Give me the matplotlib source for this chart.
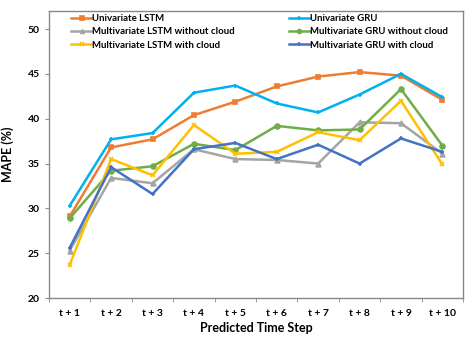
import numpy as np
import matplotlib.pyplot as plt

plt.rcParams['font.family'] = ['Lato', 'DejaVu Sans']

steps = ['t + 1', 't + 2', 't + 3', 't + 4', 't + 5',
         't + 6', 't + 7', 't + 8', 't + 9', 't + 10']

uni_lstm = [29.1, 36.8, 37.7, 40.4, 41.9, 43.6, 44.7, 45.2, 44.8, 42.1]
uni_gru = [30.3, 37.7, 38.4, 42.9, 43.7, 41.7, 40.7, 42.7, 45.0, 42.4]
multi_lstm_nc = [25.3, 33.4, 32.8, 36.6, 35.5, 35.4, 35.0, 39.6, 39.5, 36.1]
multi_gru_nc = [28.9, 34.2, 34.7, 37.2, 36.5, 39.2, 38.7, 38.8, 43.3, 37.0]
multi_lstm_c = [23.7, 35.5, 33.7, 39.3, 36.1, 36.3, 38.5, 37.6, 42.0, 34.9]
multi_gru_c = [25.6, 34.6, 31.6, 36.6, 37.3, 35.5, 37.1, 35.0, 37.8, 36.3]

series = [
    ('Univariate LSTM', uni_lstm, '#ED7D31', 's'),
    ('Univariate GRU', uni_gru, '#00B0F0', '+'),
    ('Multivariate LSTM without cloud', multi_lstm_nc, '#A5A5A5', '^'),
    ('Multivariate GRU without cloud', multi_gru_nc, '#70AD47', 'o'),
    ('Multivariate LSTM with cloud', multi_lstm_c, '#FFC000', 'x'),
    ('Multivariate GRU with cloud', multi_gru_c, '#4472C4', '+'),
]

fig = plt.figure(figsize=(4.74, 3.47), dpi=100)
ax = fig.add_axes([0.1034, 0.141, 0.8736, 0.827])

x = np.arange(len(steps))
lines = []
for name, vals, col, mk in series:
    ln, = ax.plot(x, vals, color=col, lw=1.8, marker=mk, ms=3.5, mew=1.2,
                  label=name)
    lines.append(ln)

ax.set_xlim(-0.5, len(steps) - 0.5)
ax.set_ylim(20, 52)
ax.set_yticks(np.arange(20, 51, 5))
ax.set_xticks(x)
ax.set_xticklabels(steps)
ax.set_xticks(np.arange(-0.5, len(steps), 1), minor=True)
ax.tick_params(axis='x', which='major', length=0, pad=8)
ax.tick_params(axis='x', which='minor', length=3, color='#888888')
ax.tick_params(axis='y', length=3, color='#888888')
for lab in ax.get_xticklabels() + ax.get_yticklabels():
    lab.set_fontsize(7.5)
    lab.set_fontweight('bold')

for sp in ax.spines.values():
    sp.set_color('#888888')
    sp.set_linewidth(1.0)

ax.set_xlabel('Predicted Time Step', fontsize=9, fontweight='bold', labelpad=3)
ax.set_ylabel('MAPE (%)', fontsize=9, fontweight='bold', labelpad=10)

# legend filled row by row: left column LSTM entries, right column GRU
order = [0, 2, 4, 1, 3, 5]
leg = ax.legend([lines[i] for i in order], [series[i][0] for i in order],
                loc='upper left', ncol=2, frameon=False, fontsize=6.9,
                bbox_to_anchor=(0.04, 1.01), handlelength=2.2,
                handletextpad=0.0, columnspacing=5.6, labelspacing=0.45,
                borderaxespad=0.2, markerscale=0.8)
for t in leg.get_texts():
    t.set_fontweight('bold')

fig.savefig('out.png', dpi=100)
